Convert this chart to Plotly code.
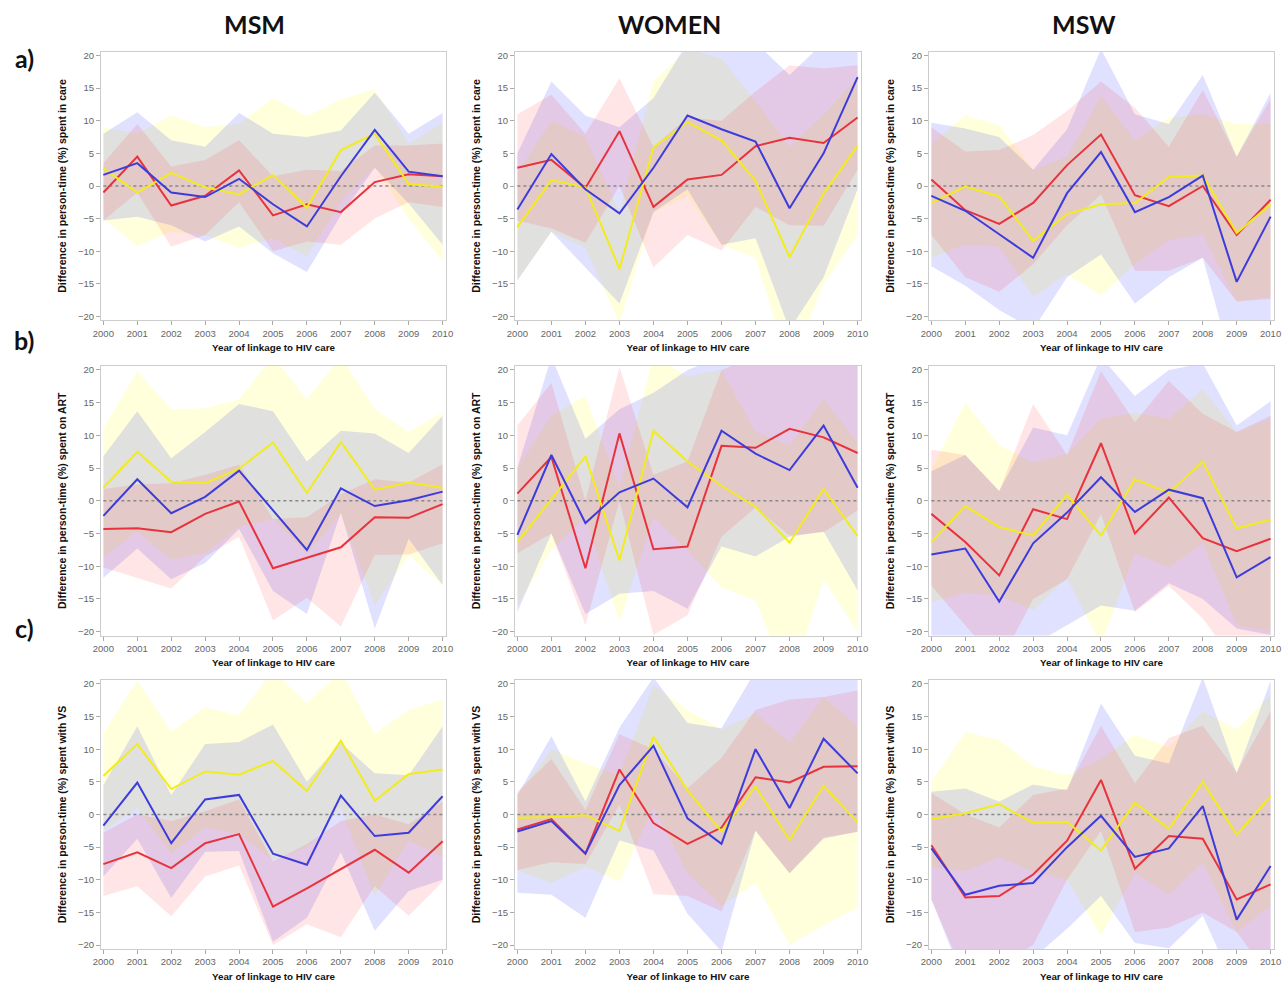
import plotly.graph_objects as go

YEARS = list(range(2000, 2011))
Y_TICKS = [-20, -15, -10, -5, 0, 5, 10, 15, 20]
COL_TITLES = ["MSM", "WOMEN", "MSW"]
ROW_LABELS = ["a)", "b)", "c)"]
Y_TITLES = ["Difference in person-time (%) spent in care",
            "Difference in person-time (%) spent on ART",
            "Difference in person-time (%) spent with VS"]
X_TITLE = "Year of linkage to HIV care"

# ---------------- a) time in care ----------------
care_msm_red = [-1, 4.5, -3, -1.5, 2.4, -4.5, -2.8, -4, 0.6, 1.8, 1.5]
care_msm_red_lo = [-5.3, -1, -9.3, -7.5, -2.5, -10, -8.5, -9, -5, -2.5, -3.2]
care_msm_red_hi = [3.5, 9.5, 3, 4, 7, 1.5, 2.5, 2.3, 6.2, 6.2, 6.5]
care_msm_blue = [1.7, 3.5, -1, -1.7, 1.1, -2.8, -6.2, 1.5, 8.6, 2.2, 1.5]
care_msm_blue_lo = [-5.3, -4.7, -6, -8.5, -6.2, -10.3, -13.2, -4.5, 2.8, -2.7, -9]
care_msm_blue_hi = [8, 11.3, 7, 6, 11.2, 8, 7.5, 8.5, 14.3, 8, 11.2]
care_msm_yel = [2.7, -1, 2, -0.2, -1.3, 1.7, -3.3, 5.5, 8, 0.3, -0.1]
care_msm_yel_lo = [-5, -9.2, -7, -7.5, -9.5, -8, -10.8, -2.5, 3, -5, -11.5]
care_msm_yel_hi = [9, 8, 10.8, 9, 9.5, 13.5, 10.7, 13.3, 14.8, 6.5, 9.7]

care_women_red = [2.8, 4, -0.3, 8.4, -3.2, 1, 1.7, 6.1, 7.4, 6.6, 10.5]
care_women_red_lo = [-5.3, -6.5, -8.7, 0, -12.5, -7.5, -9.9, -3.2, -6, -6.1, 2.5]
care_women_red_hi = [11, 14, 8, 16.5, 6, 10.5, 10, 14.5, 18.5, 18, 18.5]
care_women_blue = [-3.6, 4.9, -0.5, -4.2, 2.8, 10.8, 8.7, 6.8, -3.4, 5, 16.7]
care_women_blue_lo = [-14.5, -7, -12.5, -18, -4, -0.5, -9, -8, -22, -14, -0.5]
care_women_blue_hi = [5, 16, 10.8, 9, 13.5, 22, 21, 22, 17, 22, 22]
care_women_yel = [-6.3, 0.9, -0.2, -12.7, 5.9, 9.8, 7, 0.8, -10.9, -1.2, 6.2]
care_women_yel_lo = [-14.5, -7, -9.5, -21, -4, -1.5, -9, -11, -28, -15, -7.5]
care_women_yel_hi = [2, 10, 7.5, -4, 16, 21, 19.5, 13, 6, 11, 16.5]

care_msw_red = [1, -3.7, -5.8, -2.6, 3.2, 7.9, -1.4, -3.1, 0, -7.5, -2.1]
care_msw_red_lo = [-7.5, -14, -16.2, -12, -6, -1.3, -13, -13, -11, -17.7, -17.3]
care_msw_red_hi = [9, 5.3, 5.5, 7.8, 11.5, 16, 12, 6, 14.7, 4.5, 13.3]
care_msw_blue = [-1.5, -3.8, -7.4, -11, -1.1, 5.2, -4, -1.7, 1.6, -14.7, -4.7]
care_msw_blue_lo = [-12.3, -15.3, -19, -22, -14, -10.5, -18, -14, -11, -30, -22]
care_msw_blue_hi = [9.7, 8.8, 7.5, 2.5, 8.7, 21, 11, 9.5, 17, 4.5, 14.3]
care_msw_yel = [-2.6, -0.1, -1.6, -8.4, -4.3, -2.8, -2.6, 1.4, 1.6, -7.2, -2.8]
care_msw_yel_lo = [-11, -9, -9.3, -17, -13.5, -16.8, -12, -8.3, -7.4, -17.7, -17]
care_msw_yel_hi = [6.5, 10.8, 9.3, 2.5, 4.5, 13.8, 7, 10.5, 11, 9.5, 9.5]

# ---------------- b) time on ART ----------------
art_msm_red = [-4.3, -4.2, -4.8, -2, -0.1, -10.3, -8.7, -7.1, -2.5, -2.6, -0.5]
art_msm_red_lo = [-10.2, -11.8, -13.4, -8.5, -5.5, -18.3, -14.8, -19.2, -8.3, -8.2, -6.5]
art_msm_red_hi = [1.8, 2.5, 2.7, 4, 5.5, -2.8, -2.5, 1, 3.3, 2.8, 5.6]
art_msm_blue = [-2.3, 3.3, -1.9, 0.6, 4.6, -1.5, -7.5, 1.9, -0.8, 0.1, 1.4]
art_msm_blue_lo = [-11.8, -7.3, -12, -9.5, -4.3, -13.8, -17.3, -1.8, -19.5, -5.8, -12.9]
art_msm_blue_hi = [6.8, 13.7, 6.5, 10.5, 14.8, 13.7, 6, 10.7, 10.3, 7.3, 13]
art_msm_yel = [2, 7.5, 2.9, 2.7, 4.9, 8.9, 1.2, 9, 1.7, 2.8, 2]
art_msm_yel_lo = [-8.5, -4.7, -9, -8, -4, -2.8, -8, -2, -16, -8.3, -12.9]
art_msm_yel_hi = [11, 19.8, 14, 14.1, 15.5, 22, 15.5, 22, 14, 10.5, 13.5]

art_women_red = [1.1, 6.7, -10.3, 10.3, -7.4, -7, 8.4, 8.1, 11, 9.7, 7.3]
art_women_red_lo = [-8, -5, -19, 0, -20.5, -17.5, -5.5, -1, -5.3, -4.8, -1.5]
art_women_red_hi = [11.5, 18, 0, 20.5, 4, 6, 20, 22, 22, 22, 22]
art_women_blue = [-5.2, 7, -3.4, 1.3, 3.4, -1, 10.7, 7.2, 4.7, 11.5, 2]
art_women_blue_lo = [-17, -5, -17.3, -14.2, -13.8, -16.5, -7, -8.5, -5.5, -4.7, -13.7]
art_women_blue_hi = [5, 22, 9.5, 14, 16.5, 20, 22, 22, 22, 22, 22]
art_women_yel = [-6.3, 0.3, 6.8, -9.1, 10.7, 6, 2.3, -0.9, -6.4, 1.8, -5.4]
art_women_yel_lo = [-16, -7.5, -2.5, -18.5, -2.5, -7.5, -13.3, -15.2, -28, -12, -20]
art_women_yel_hi = [5, 13, 16, 2, 22, 19, 20, 10.5, 8.5, 15.5, 9]

art_msw_red = [-2, -6.3, -11.4, -1.3, -2.8, 8.8, -5, 0.5, -5.7, -7.7, -5.8]
art_msw_red_lo = [-13, -19, -25, -15, -12, -2, -17, -13, -18, -25, -25]
art_msw_red_hi = [7.8, 7, 1.5, 14.8, 7, 19.8, 12, 18.3, 13.3, 10.5, 13]
art_msw_blue = [-8.2, -7.3, -15.4, -6.5, -1.8, 3.6, -1.7, 1.7, 0.4, -11.7, -8.6]
art_msw_blue_lo = [-22, -22, -28, -22, -19, -16, -16.8, -12.6, -15, -19.5, -20.5]
art_msw_blue_hi = [4.5, 7, 1.5, 11.2, 10, 22, 16, 20, 21, 11.5, 15.2]
art_msw_yel = [-6.3, -0.8, -4, -5.3, 0.9, -5.3, 3.3, 1.2, 6, -4.2, -2.9]
art_msw_yel_lo = [-15.5, -14, -14.5, -16.7, -11.8, -22, -8, -10.2, -6.5, -19, -20]
art_msw_yel_hi = [4.7, 15, 8.5, 5.8, 7.2, 12.5, 13.5, 12.5, 17, 10.5, 12.5]

# ---------------- c) time with viral suppression ----------------
vs_msm_red = [-7.6, -5.8, -8.2, -4.4, -3, -14.1, -11.3, -8.4, -5.4, -8.9, -4.1]
vs_msm_red_lo = [-12.5, -11, -15.6, -9.5, -7.8, -20, -16.8, -18.8, -11, -15.5, -10.3]
vs_msm_red_hi = [-2.8, 0, -1, 0.5, 2.3, -7.2, -4.5, -1, 0, -1.5, 2]
vs_msm_blue = [-1.7, 4.9, -4.4, 2.3, 3, -6, -7.7, 2.9, -3.3, -2.8, 2.8]
vs_msm_blue_lo = [-9.5, -3.7, -12.8, -5.7, -5.6, -19.5, -15.8, -5.8, -17.8, -11.7, -10]
vs_msm_blue_hi = [4.5, 13.5, 3, 10.8, 11.1, 13.8, 5, 11, 6.3, 6, 13.5]
vs_msm_yel = [5.9, 10.8, 3.9, 6.6, 6.1, 8.2, 3.6, 11.3, 2.1, 6.2, 6.9]
vs_msm_yel_lo = [-2.5, 1, -6, -2, -3, -7, -5, 1, -12.5, -4, -6.5]
vs_msm_yel_hi = [12.5, 20.5, 12.7, 16.4, 15.2, 22, 17, 22, 12.3, 16, 17.6]

vs_women_red = [-2.3, -0.7, -6, 6.9, -1.3, -4.5, -2, 5.7, 4.9, 7.3, 7.4]
vs_women_red_lo = [-8.5, -7.3, -7.6, 1.5, -12.2, -12.5, -14.8, -2.5, -9, -3.5, -2.7]
vs_women_red_hi = [3.5, 8.5, 0.7, 12.3, 10, 4, 8.7, 16, 17.6, 18, 19]
vs_women_blue = [-2.6, -1, -6, 4.5, 10.5, -0.6, -4.5, 10, 1, 11.6, 6.3]
vs_women_blue_lo = [-12, -12.3, -15.8, -4, -5.5, -15.2, -21, -2.5, -9, -3.7, -2.6]
vs_women_blue_hi = [3, 12, 2, 13.3, 21, 14, 13.2, 22, 22, 22, 22]
vs_women_yel = [-0.5, -0.4, -0.1, -2.5, 11.9, 3.7, -2.6, 4.3, -3.9, 4.4, -1.2]
vs_women_yel_lo = [-8.5, -10.5, -8, -10.3, 1.2, -9, -14, -10.5, -20, -17, -14.3]
vs_women_yel_hi = [3, 10, 7.8, 6, 19.8, 16, 13, 15.5, 11, 18, 13.5]

vs_msw_red = [-4.7, -12.7, -12.5, -9.2, -4, 5.3, -8.3, -3.3, -3.7, -13, -10.7]
vs_msw_red_lo = [-13, -25, -23, -20, -10, -2.5, -18, -17.3, -15, -18, -25]
vs_msw_red_hi = [3.3, 0, -2, 3, 4, 13.6, 4.8, 11.7, 13.6, 6.5, 15.8]
vs_msw_blue = [-5.2, -12.3, -10.9, -10.5, -5, -0.2, -6.5, -5.2, 1.3, -16.1, -7.9]
vs_msw_blue_lo = [-13, -26, -24, -22, -17.5, -12.5, -19.7, -20.5, -15.5, -27, -24]
vs_msw_blue_hi = [3.5, 4, 2, 4.6, 3.7, 17, 9, 7.8, 21, 6.3, 20.5]
vs_msw_yel = [-0.7, 0.2, 1.6, -1.3, -1.1, -5.5, 1.8, -2.2, 5, -3.1, 2.8]
vs_msw_yel_lo = [-8, -8.7, -6.5, -8.8, -10, -18.5, -9, -12.2, -7.4, -18, -14]
vs_msw_yel_hi = [5, 12.6, 11.4, 7.4, 6, 8.5, 12.2, 10.3, 15.8, 13, 18.3]

PANELS = [
    [(care_msm_yel, care_msm_yel_lo, care_msm_yel_hi), (care_msm_blue, care_msm_blue_lo, care_msm_blue_hi), (care_msm_red, care_msm_red_lo, care_msm_red_hi)],
    [(care_women_yel, care_women_yel_lo, care_women_yel_hi), (care_women_blue, care_women_blue_lo, care_women_blue_hi), (care_women_red, care_women_red_lo, care_women_red_hi)],
    [(care_msw_yel, care_msw_yel_lo, care_msw_yel_hi), (care_msw_blue, care_msw_blue_lo, care_msw_blue_hi), (care_msw_red, care_msw_red_lo, care_msw_red_hi)],
    [(art_msm_yel, art_msm_yel_lo, art_msm_yel_hi), (art_msm_blue, art_msm_blue_lo, art_msm_blue_hi), (art_msm_red, art_msm_red_lo, art_msm_red_hi)],
    [(art_women_yel, art_women_yel_lo, art_women_yel_hi), (art_women_blue, art_women_blue_lo, art_women_blue_hi), (art_women_red, art_women_red_lo, art_women_red_hi)],
    [(art_msw_yel, art_msw_yel_lo, art_msw_yel_hi), (art_msw_blue, art_msw_blue_lo, art_msw_blue_hi), (art_msw_red, art_msw_red_lo, art_msw_red_hi)],
    [(vs_msm_yel, vs_msm_yel_lo, vs_msm_yel_hi), (vs_msm_blue, vs_msm_blue_lo, vs_msm_blue_hi), (vs_msm_red, vs_msm_red_lo, vs_msm_red_hi)],
    [(vs_women_yel, vs_women_yel_lo, vs_women_yel_hi), (vs_women_blue, vs_women_blue_lo, vs_women_blue_hi), (vs_women_red, vs_women_red_lo, vs_women_red_hi)],
    [(vs_msw_yel, vs_msw_yel_lo, vs_msw_yel_hi), (vs_msw_blue, vs_msw_blue_lo, vs_msw_blue_hi), (vs_msw_red, vs_msw_red_lo, vs_msw_red_hi)],
]

LINE_COLORS = ["#F2EC1C", "#3C3CDC", "#E8323C"]
FILL_COLORS = ["rgba(255,255,0,0.14)", "rgba(0,0,255,0.12)", "rgba(255,0,0,0.10)"]

W, H = 1283, 988
COL_PX = [(101, 446), (515, 861), (929, 1274)]
ROW_PX = [(51.6, 320.4), (366, 635.6), (680, 949)]
COL_TITLE_X = [254, 669, 1084]
ROW_LABEL_Y = [58, 340, 628]

fig = go.Figure()
layout = dict(width=W, height=H, autosize=False,
              margin=dict(l=0, r=0, t=0, b=0, pad=0, autoexpand=False),
              paper_bgcolor="white", plot_bgcolor="white", showlegend=False)

for k, series in enumerate(PANELS):
    r, c = divmod(k, 3)
    n = "" if k == 0 else str(k + 1)
    xa, ya = "x" + n, "y" + n
    # confidence bands
    for (line, lo, hi), fc in zip(series, FILL_COLORS):
        fig.add_trace(go.Scatter(x=YEARS + YEARS[::-1], y=hi + lo[::-1], fill="toself",
                                 fillcolor=fc, line=dict(width=0), mode="lines",
                                 hoverinfo="skip", xaxis=xa, yaxis=ya))
    # zero reference line
    fig.add_trace(go.Scatter(x=[YEARS[0], YEARS[-1]], y=[0, 0], mode="lines",
                             line=dict(color="#888888", width=1.6, dash="dot"),
                             hoverinfo="skip", xaxis=xa, yaxis=ya))
    # estimate lines
    for idx in [2, 0, 1]:
        line = series[idx][0]
        fig.add_trace(go.Scatter(x=YEARS, y=line, mode="lines",
                                 line=dict(color=LINE_COLORS[idx], width=2),
                                 xaxis=xa, yaxis=ya))
    x0, x1 = COL_PX[c]
    y0, y1 = ROW_PX[r]
    layout["xaxis" + n] = dict(
        domain=[x0 / W, x1 / W], anchor=ya, range=[1999.93, 2010.1], automargin=False,
        tickmode="array", tickvals=YEARS, ticks="outside", ticklen=4, tickcolor="#aaaaaa",
        showline=True, linecolor="#cccccc", linewidth=1, mirror=True,
        showgrid=False, zeroline=False,
        tickfont=dict(family="Liberation Sans", size=9.5, color="#666666"),
        title=dict(text="<b>" + X_TITLE + "</b>", standoff=6,
                   font=dict(family="Liberation Sans", size=9.8, color="#111111")))
    layout["yaxis" + n] = dict(
        domain=[1 - y1 / H, 1 - y0 / H], anchor=xa, range=[-20.6, 20.6], automargin=False,
        tickmode="array", tickvals=Y_TICKS, ticks="outside", ticklen=4, tickcolor="#aaaaaa",
        showline=True, linecolor="#cccccc", linewidth=1, mirror=True,
        showgrid=False, zeroline=False,
        tickfont=dict(family="Liberation Sans", size=9.5, color="#666666"),
        title=dict(text="<b>" + Y_TITLES[r] + "</b>", standoff=9,
                   font=dict(family="Liberation Sans", size=10.5, color="#111111")))

annotations = []
for t, px in zip(COL_TITLES, COL_TITLE_X):
    annotations.append(dict(text="<b>" + t + "</b>", x=px / W, y=1 - 24 / H, xref="paper", yref="paper",
                            showarrow=False, xanchor="center", yanchor="middle",
                            font=dict(family="Lato", size=25, color="#111111")))
for t, py in zip(ROW_LABELS, ROW_LABEL_Y):
    annotations.append(dict(text="<b>" + t + "</b>", x=24 / W, y=1 - py / H, xref="paper", yref="paper",
                            showarrow=False, xanchor="center", yanchor="middle",
                            font=dict(family="Lato", size=25, color="#111111")))
layout["annotations"] = annotations

fig.update_layout(**layout)
fig.write_html("out.html", config={"displayModeBar": False},
               post_script="document.body.style.margin='0';document.body.style.overflow='hidden';")
